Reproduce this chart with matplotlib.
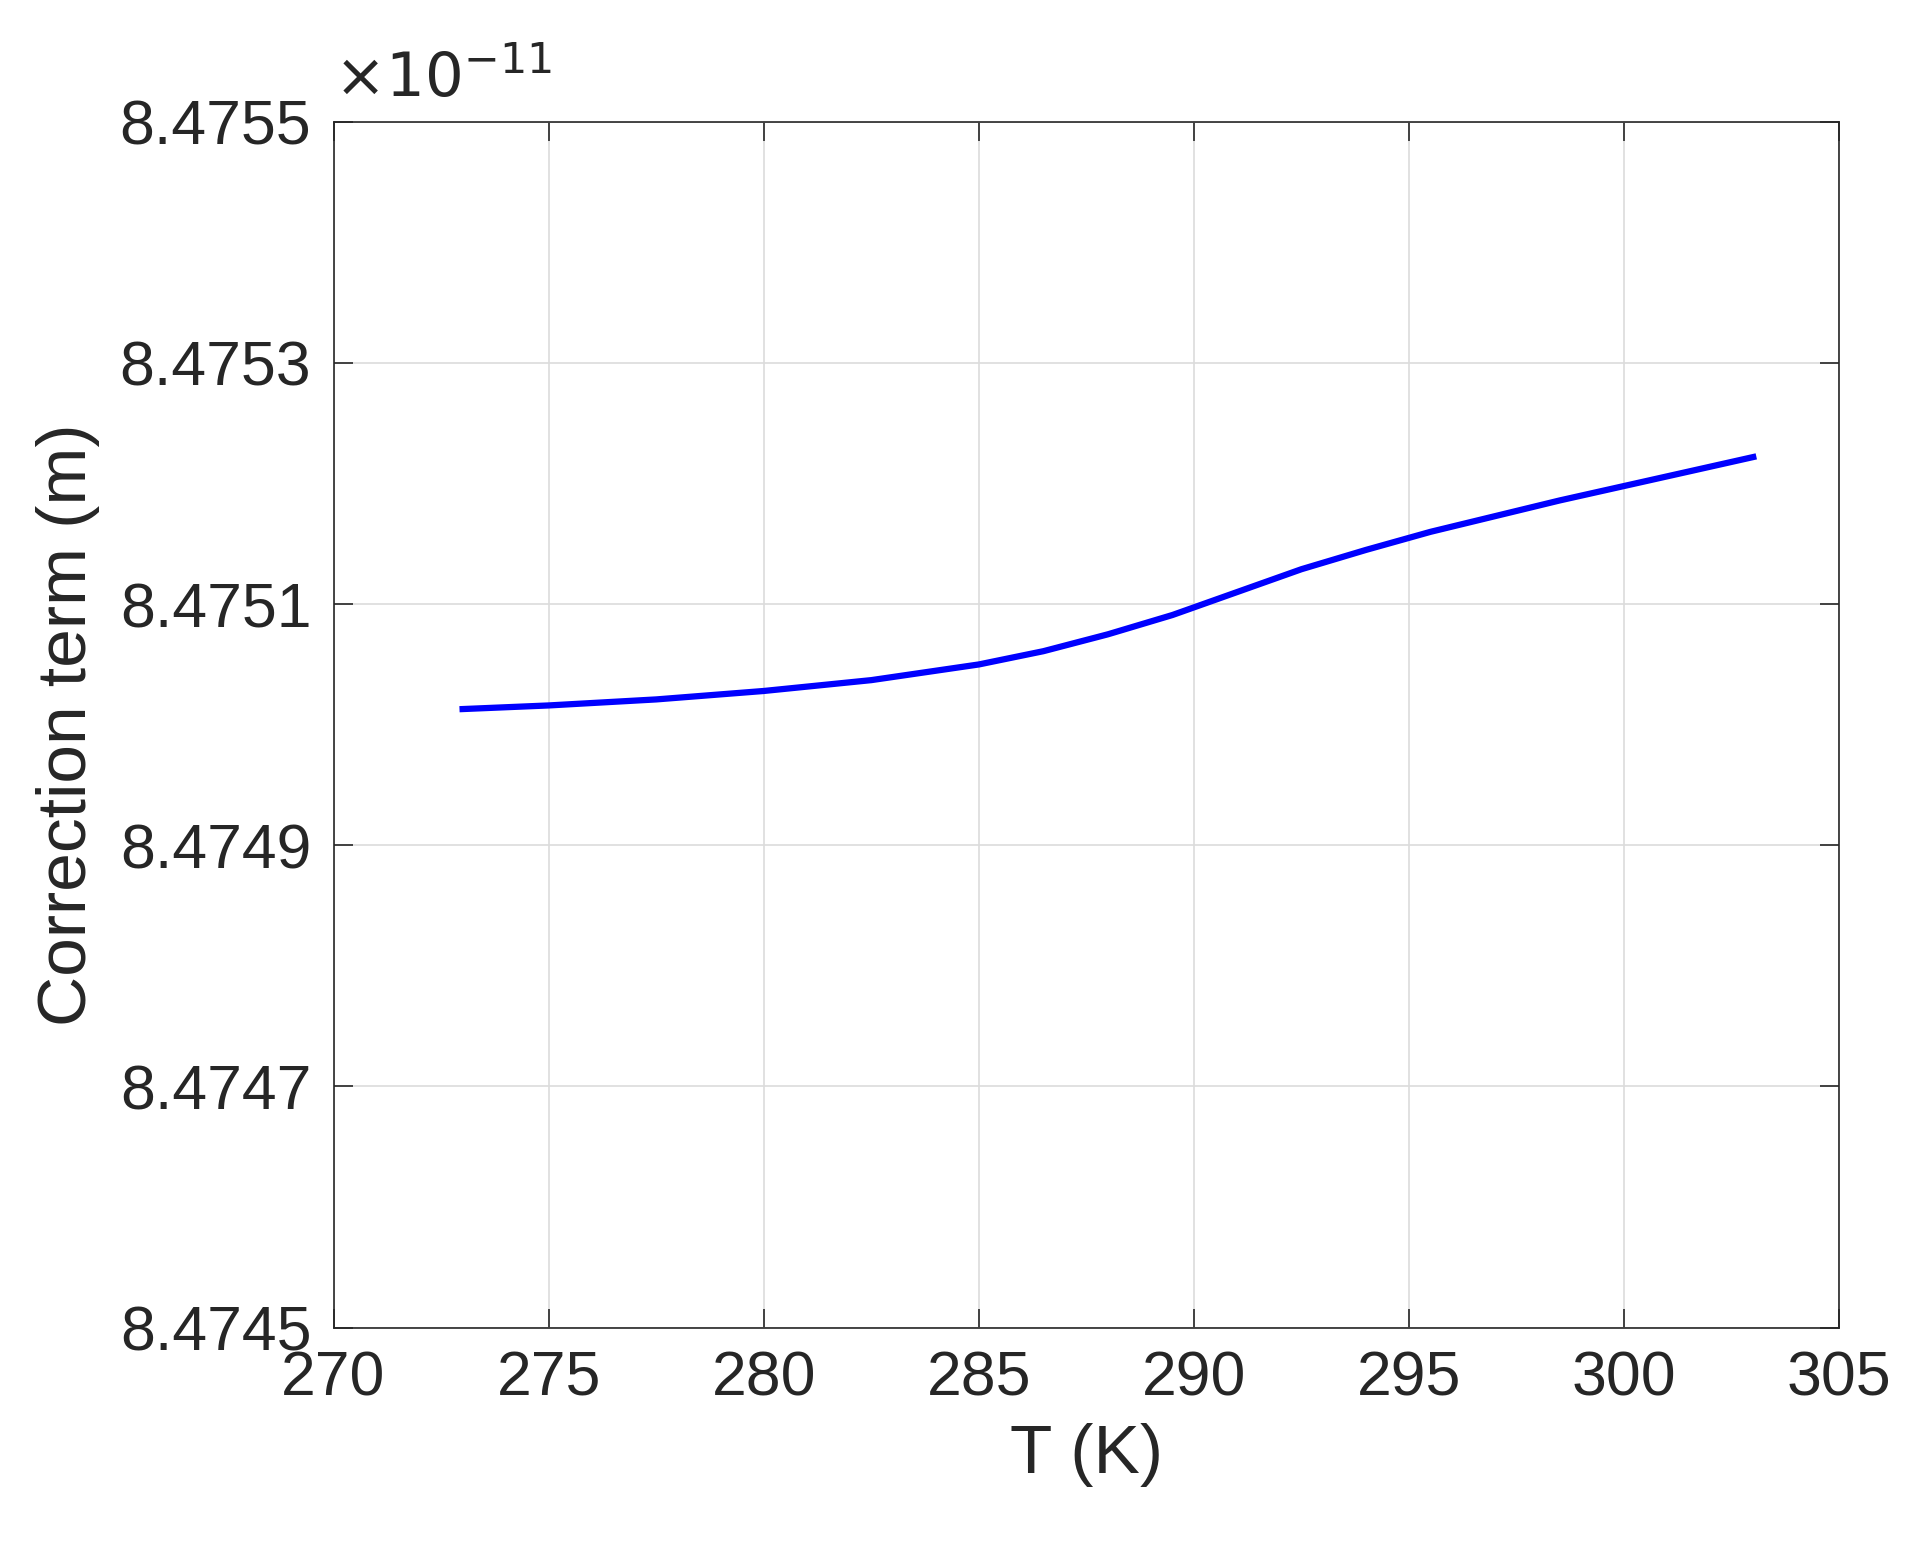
import matplotlib
matplotlib.use("Agg")
import matplotlib.pyplot as plt
from matplotlib.ticker import FuncFormatter

plt.rcParams['font.family'] = ['Liberation Sans', 'DejaVu Sans']

# temperature (K) and correction term (units of 1e-11 m)
temp_k = [273, 275, 277.5, 280, 282.5, 285, 286.5, 288, 289.5, 291, 292.5, 294,
          295.5, 297, 298.5, 300, 301.5, 303]
corr = [8.475013, 8.475016, 8.475021, 8.475028, 8.475037, 8.475050, 8.475061,
        8.475075, 8.475091, 8.475110, 8.475129, 8.475145, 8.475160, 8.475173,
        8.475186, 8.475198, 8.475210, 8.475222]
x_ticks = [270, 275, 280, 285, 290, 295, 300, 305]
y_ticks = [8.4745, 8.4747, 8.4749, 8.4751, 8.4753, 8.4755]

fig = plt.figure(figsize=(19.06, 15.42), dpi=100)
ax = fig.add_axes([0.175, 0.139, 0.79, 0.782])
ax.plot(temp_k, corr, color="#0000ff", lw=4.5)

ax.set_xlim(270, 305)
ax.set_ylim(8.4745, 8.4755)
ax.set_xticks(x_ticks)
ax.set_yticks(y_ticks)
ax.yaxis.set_major_formatter(FuncFormatter(lambda v, p: f"{v:.4f}"))
ax.tick_params(direction="in", length=14, width=1.2, labelsize=45, colors="#262626",
               top=True, right=True, pad=16)
ax.grid(True, color="#dcdcdc", lw=1.2)
for s in ax.spines.values():
    s.set_color("#262626")
    s.set_linewidth(1.2)

ax.set_xlabel("T (K)", fontsize=50, color="#262626", labelpad=10)
ax.set_ylabel("Correction term (m)", fontsize=50, color="#262626", labelpad=14)
ax.text(0.0, 1.01, r"$\times10^{-11}$", transform=ax.transAxes, fontsize=44,
        color="#262626", ha="left", va="bottom", math_fontfamily="dejavusans")

fig.savefig("out.png", dpi=100, facecolor="white")
